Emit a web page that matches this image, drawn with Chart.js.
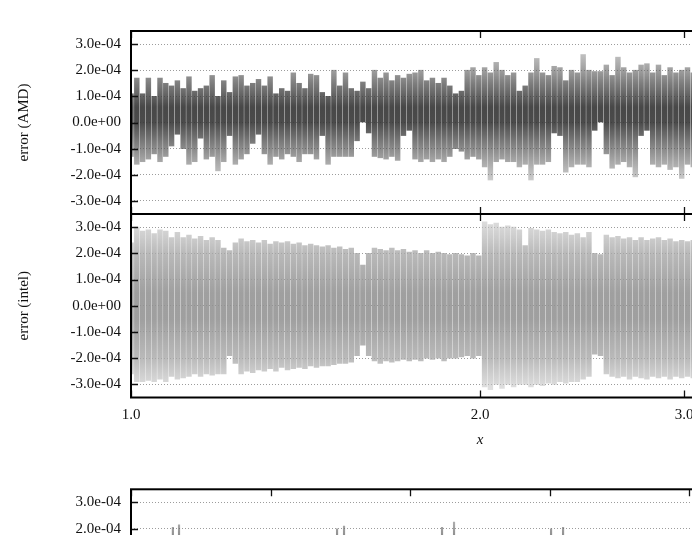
<!DOCTYPE html>
<html><head><meta charset="utf-8">
<script src="https://cdn.jsdelivr.net/npm/chart.js@4/dist/chart.umd.min.js"></script>
<style>
html,body{margin:0;padding:0;width:692px;height:535px;overflow:hidden;background:#fff}
canvas{position:absolute;left:0}
</style></head><body>
<canvas id="cA" width="880" height="216" style="top:0px"></canvas>
<canvas id="cB" width="880" height="260" style="top:200px"></canvas>
<canvas id="cC" width="880" height="240" style="top:470px"></canvas>
<script>
// column positions (x) read along the log axis
const xCols = [1.0000,1.0116,1.0233,1.0351,1.0471,1.0593,1.0715,1.0839,1.0965,1.1092,
1.1220,1.1350,1.1482,1.1614,1.1749,1.1885,1.2023,1.2162,1.2303,1.2445,
1.2589,1.2735,1.2882,1.3032,1.3183,1.3335,1.3490,1.3646,1.3804,1.3964,
1.4125,1.4289,1.4454,1.4622,1.4791,1.4962,1.5136,1.5311,1.5488,1.5668,
1.5849,1.6032,1.6218,1.6406,1.6596,1.6788,1.6982,1.7179,1.7378,1.7579,
1.7783,1.7989,1.8197,1.8408,1.8621,1.8836,1.9055,1.9275,1.9498,1.9724,
1.9953,2.0184,2.0417,2.0654,2.0893,2.1135,2.1380,2.1627,2.1878,2.2131,
2.2387,2.2646,2.2909,2.3174,2.3442,2.3714,2.3988,2.4266,2.4547,2.4831,
2.5119,2.5410,2.5704,2.6002,2.6303,2.6607,2.6915,2.7227,2.7542,2.7861,
2.8184,2.8510,2.8840,2.9174,2.9512,2.9854,3.0200,3.0549];

// error envelopes, in units of 1e-4
const amdHi = [1.1,1.7,1.1,1.7,1.0,1.7,1.5,1.4,1.6,1.3,
1.75,1.2,1.3,1.4,1.8,1.0,1.6,1.15,1.75,1.8,
1.4,1.5,1.65,1.4,1.75,1.1,1.3,1.2,1.9,1.5,
1.3,1.85,1.8,1.15,1.0,2.0,1.4,1.9,1.3,1.2,
1.55,1.3,2.0,1.7,1.9,1.6,1.8,1.7,1.85,1.9,
2.0,1.6,1.7,1.5,1.7,1.4,1.1,1.2,2.0,2.1,
1.8,2.1,1.9,2.3,2.0,1.8,1.9,1.2,1.4,1.9,
2.45,1.9,1.8,2.15,2.1,1.6,2.0,1.9,2.6,2.0,
1.95,1.95,2.2,1.8,2.5,2.1,1.9,2.0,2.2,2.25,
1.9,2.2,1.8,2.1,1.9,2.0,2.1,1.9];
const amdLo = [-1.3,-1.6,-1.5,-1.4,-1.2,-1.5,-1.3,-0.9,-0.45,-1.0,
-1.6,-1.5,-0.6,-1.4,-1.3,-1.85,-1.5,-0.5,-1.6,-1.4,
-1.2,-0.8,-0.45,-1.2,-1.6,-1.3,-1.4,-1.2,-1.3,-1.5,
-1.2,-1.2,-1.4,-0.5,-1.6,-1.3,-1.3,-1.3,-1.3,-0.7,
0.0,-0.4,-1.3,-1.35,-1.4,-1.3,-1.45,-0.5,-0.3,-1.4,
-1.5,-1.4,-1.5,-1.4,-1.5,-1.3,-1.0,-1.1,-1.4,-1.3,
-1.4,-1.7,-2.2,-1.5,-1.4,-1.5,-1.5,-1.7,-1.6,-2.2,
-1.6,-1.6,-1.5,-0.4,-0.5,-1.9,-1.7,-1.6,-1.6,-1.7,
-0.3,0.0,-1.2,-1.75,-1.6,-1.5,-1.7,-2.08,-0.5,-0.3,
-1.6,-1.7,-1.6,-1.8,-1.7,-2.14,-1.6,-1.7];
const intelHi = [2.4,3.0,2.85,2.9,2.75,2.9,2.85,2.6,2.8,2.6,
2.7,2.55,2.65,2.5,2.6,2.5,2.2,2.1,2.4,2.55,
2.45,2.5,2.4,2.5,2.35,2.45,2.4,2.45,2.35,2.4,
2.3,2.35,2.3,2.25,2.3,2.2,2.25,2.15,2.2,2.0,
1.55,2.0,2.2,2.15,2.1,2.2,2.1,2.15,2.05,2.1,
2.0,2.1,2.0,2.05,2.0,1.95,2.0,1.95,1.9,2.0,
1.9,3.2,3.1,3.15,3.0,3.05,3.0,2.9,2.3,2.95,
2.9,2.85,2.9,2.8,2.75,2.8,2.7,2.75,2.6,2.8,
2.0,1.95,2.7,2.6,2.65,2.55,2.6,2.5,2.6,2.5,
2.55,2.6,2.5,2.55,2.45,2.5,2.45,2.5];
const intelLo = [-2.6,-2.9,-2.9,-2.85,-2.9,-2.8,-2.9,-2.7,-2.8,-2.75,
-2.7,-2.6,-2.7,-2.6,-2.65,-2.6,-2.6,-1.9,-2.2,-2.6,
-2.5,-2.55,-2.45,-2.5,-2.4,-2.5,-2.35,-2.45,-2.4,-2.35,
-2.4,-2.3,-2.35,-2.3,-2.3,-2.25,-2.2,-2.2,-2.15,-1.9,
-1.5,-1.9,-2.1,-2.2,-2.1,-2.15,-2.1,-2.05,-2.1,-2.05,
-2.1,-2.0,-2.05,-2.0,-2.1,-2.0,-2.0,-1.95,-1.9,-2.0,
-1.9,-3.1,-3.2,-3.0,-3.15,-3.0,-3.1,-3.0,-3.0,-3.1,
-3.0,-3.05,-2.95,-3.0,-2.9,-2.95,-2.9,-2.9,-2.8,-2.7,
-1.85,-1.9,-2.6,-2.7,-2.75,-2.7,-2.8,-2.7,-2.75,-2.8,
-2.7,-2.75,-2.7,-2.8,-2.7,-2.75,-2.7,-2.75];

// third panel (only its top is visible)
const thirdX  = [0.30,0.344,1.476,1.526,2.228,2.314,3.009,3.095];
const thirdHi = [2.05,2.15,2.0,2.1,2.05,2.25,2.0,2.05];
const thirdLo = [-2.0,-2.0,-2.0,-2.0,-2.0,-2.0,-2.0,-2.0];

const yTickValues = [-3e-4,-2e-4,-1e-4,0,1e-4,2e-4,3e-4];
const yTickLabels = ['-3.0e-04','-2.0e-04','-1.0e-04','0.0e+00','1.0e-04','2.0e-04','3.0e-04'];
const xTickValues = [1,2,3,4];
const xTickLabels = ['1.0','2.0','3.0','4.0'];
const thirdTickValues = [0,1,2,3,4,5];
const UNIT = 1e-4;
const SERIF = '"Liberation Serif","Times New Roman",serif';

const framePlugin = {
  id: 'frame',
  afterDraw(chart, args, opts) {
    const {ctx, chartArea:{left,right,top,bottom}, scales:{x,y}} = chart;
    ctx.save();
    ctx.strokeStyle = '#111';
    ctx.lineWidth = 1.3;
    ctx.beginPath();
    for (const v of opts.yTicks) {
      const py = Math.round(y.getPixelForValue(v)) + 0.5;
      ctx.moveTo(left, py); ctx.lineTo(left + 7, py);
      ctx.moveTo(right, py); ctx.lineTo(right - 7, py);
    }
    for (const v of opts.xTicks) {
      const px = Math.round(x.getPixelForValue(v)) + 0.5;
      ctx.moveTo(px, top); ctx.lineTo(px, top + 7);
      ctx.moveTo(px, bottom); ctx.lineTo(px, bottom - 7);
    }
    ctx.stroke();
    ctx.lineWidth = 2;
    ctx.strokeStyle = '#000';
    ctx.strokeRect(left, top, right - left, bottom - top);
    ctx.restore();
  }
};

function gradientFill(stops, fallback) {
  return (c) => {
    const chart = c.chart;
    const ys = chart.scales && chart.scales.y;
    if (!chart.chartArea || !ys) return fallback;
    const y0 = ys.getPixelForValue(3.5e-4), y1 = ys.getPixelForValue(-3.5e-4);
    const g = chart.ctx.createLinearGradient(0, y0, 0, y1);
    for (const [v, col] of stops) g.addColorStop(Math.min(1, Math.max(0, (3.5 - v) / 7)), col);
    return g;
  };
}

function yAxis(title) {
  return {
    type: 'linear', min: -3.5e-4, max: 3.5e-4,
    afterBuildTicks: s => { s.ticks = yTickValues.map(v => ({value: v})); },
    afterFit: s => { s.width = 131; s.paddingTop = 0; s.paddingBottom = 0; },
    ticks: { callback: (v, i) => yTickLabels[i], font: {family: SERIF, size: 15}, color: '#111', padding: 10, autoSkip: false },
    grid: { color: '#9c9c9c', lineWidth: 1, drawTicks: false },
    border: { display: false, dash: [1, 2] },
    title: { display: !!title, text: title, font: {family: SERIF, size: 15}, color: '#111', padding: {top: 15, bottom: 0} }
  };
}

function barSet(xs, lo, hi, stops, fallback, thick) {
  return {
    type: 'bar',
    data: xs.map((x, i) => ({x: x, y: [lo[i] * UNIT, hi[i] * UNIT]})),
    backgroundColor: gradientFill(stops, fallback),
    borderWidth: 0, borderSkipped: false,
    barThickness: thick, grouped: false
  };
}

const amdStops = [[2.6,'rgba(115,115,115,0.45)'],[1.5,'rgba(82,82,82,0.75)'],[0.6,'rgba(52,52,52,0.9)'],[0.0,'rgba(55,55,55,0.9)'],[-1.0,'rgba(88,88,88,0.7)'],[-2.2,'rgba(125,125,125,0.4)']];
const intelStops = [[3.2,'rgba(196,196,196,0.6)'],[2.0,'rgba(168,168,168,0.8)'],[0.5,'rgba(146,146,146,0.88)'],[-0.5,'rgba(146,146,146,0.88)'],[-2.0,'rgba(168,168,168,0.8)'],[-3.2,'rgba(198,198,198,0.55)']];

const common = { responsive: false, animation: false, devicePixelRatio: 1, events: [] };

new Chart(document.getElementById('cA'), {
  type: 'bar',
  data: { datasets: [barSet(xCols, amdLo, amdHi, amdStops, '#444', 4.8)] },
  options: Object.assign({}, common, {
    layout: { padding: {top: 31, right: 51, bottom: 2, left: 0} },
    plugins: { legend: {display: false}, tooltip: {enabled: false}, frame: {xTicks: xTickValues, yTicks: yTickValues} },
    scales: {
      x: { type: 'logarithmic', min: 1, max: 4, display: false, offset: false },
      y: yAxis('error (AMD)')
    }
  }),
  plugins: [framePlugin]
});

new Chart(document.getElementById('cB'), {
  type: 'bar',
  data: { datasets: [barSet(xCols, intelLo, intelHi, intelStops, '#999', 4.8)] },
  options: Object.assign({}, common, {
    layout: { padding: {top: 14, right: 51, bottom: 0, left: 0} },
    plugins: { legend: {display: false}, tooltip: {enabled: false}, frame: {xTicks: xTickValues, yTicks: yTickValues} },
    scales: {
      x: { type: 'logarithmic', min: 1, max: 4, offset: false,
        afterBuildTicks: s => { s.ticks = xTickValues.map(v => ({value: v})); },
        afterFit: s => { s.height = 62.5; s.paddingLeft = 0; s.paddingRight = 0; },
        ticks: { callback: (v, i) => xTickLabels[i], font: {family: SERIF, size: 15}, color: '#111', padding: 9, autoSkip: false, maxRotation: 0 },
        grid: { display: false, drawTicks: false },
        border: { display: false },
        title: { display: true, text: 'x', font: {family: SERIF, size: 15, style: 'italic'}, color: '#111', padding: {top: 0, bottom: 11} }
      },
      y: yAxis('error (intel)')
    }
  }),
  plugins: [framePlugin]
});

new Chart(document.getElementById('cC'), {
  type: 'bar',
  data: { datasets: [barSet(thirdX, thirdLo, thirdHi, amdStops, '#444', 1.5)] },
  options: Object.assign({}, common, {
    layout: { padding: {top: 19.3, right: 51, bottom: 36.7, left: 0} },
    plugins: { legend: {display: false}, tooltip: {enabled: false}, frame: {xTicks: thirdTickValues, yTicks: yTickValues} },
    scales: {
      x: { type: 'linear', min: 0, max: 5, display: false, offset: false },
      y: yAxis('')
    }
  }),
  plugins: [framePlugin]
});
</script>
</body></html>
